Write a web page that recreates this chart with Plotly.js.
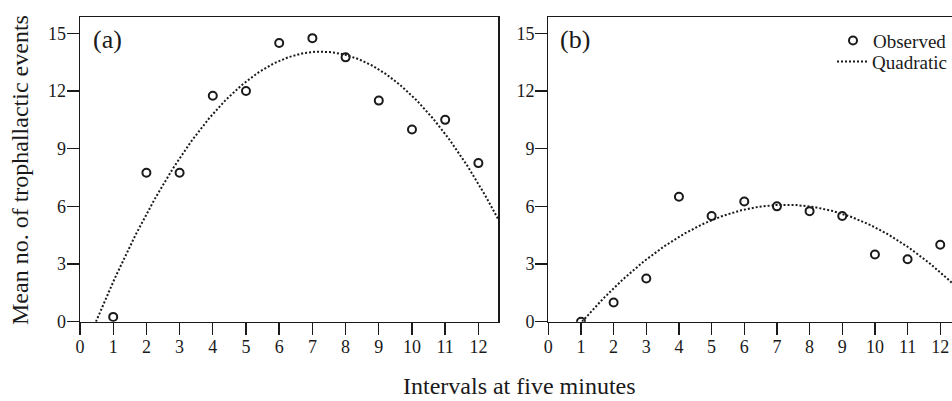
<!DOCTYPE html>
<html>
<head>
<meta charset="utf-8">
<script src="https://cdn.plot.ly/plotly-3.0.1.min.js"></script>
<style>html,body{margin:0;padding:0;background:#fff;}#chart{width:952px;height:401px;}</style>
</head>
<body>
<div id="chart"></div>
<script>
// ---- data ----
const intervals = [1, 2, 3, 4, 5, 6, 7, 8, 9, 10, 11, 12];
const observedA = [0.25, 7.75, 7.75, 11.75, 12, 14.5, 14.75, 13.75, 11.5, 10, 10.5, 8.25];
const observedB = [0, 1, 2.25, 6.5, 5.5, 6.25, 6, 5.75, 5.5, 3.5, 3.25, 4];
const yTicks = [0, 3, 6, 9, 12, 15];
const xTicks = [0, 1, 2, 3, 4, 5, 6, 7, 8, 9, 10, 11, 12];
const panelLabels = ["(a)", "(b)"];
const legendNames = ["Observed", "Quadratic"];
const xTitle = "Intervals at five minutes";
const yTitle = "Mean no. of trophallactic events";

// least-squares quadratic fit of the observed values
function quadFit(xs, ys) {
  let n = xs.length, s = [0,0,0,0,0], t = [0,0,0];
  for (let i = 0; i < n; i++) {
    let p = 1;
    for (let k = 0; k < 5; k++) { s[k] += p; if (k < 3) t[k] += p * ys[i]; p *= xs[i]; }
  }
  const M = [[s[0], s[1], s[2], t[0]], [s[1], s[2], s[3], t[1]], [s[2], s[3], s[4], t[2]]];
  for (let c = 0; c < 3; c++) {
    for (let r = c + 1; r < 3; r++) {
      const f = M[r][c] / M[c][c];
      for (let k = c; k < 4; k++) M[r][k] -= f * M[c][k];
    }
  }
  const b = [0, 0, 0];
  for (let r = 2; r >= 0; r--) {
    let v = M[r][3];
    for (let k = r + 1; k < 3; k++) v -= M[r][k] * b[k];
    b[r] = v / M[r][r];
  }
  return b; // c0, c1, c2
}
function curve(b, xEnd) {
  const [c0, c1, c2] = b;
  const disc = c1 * c1 - 4 * c2 * c0;
  const r1 = (-c1 + Math.sqrt(disc)) / (2 * c2);
  const r2 = (-c1 - Math.sqrt(disc)) / (2 * c2);
  const x0 = Math.min(r1, r2);
  const xs = [], ys = [];
  const N = 200;
  for (let i = 0; i <= N; i++) {
    const x = x0 + (xEnd - x0) * i / N;
    xs.push(x); ys.push(c0 + c1 * x + c2 * x * x);
  }
  return {xs, ys};
}

const xEndA = 12.6, xEndB = 12.36, yTop = 15.85;
const fitA = curve(quadFit(intervals, observedA), xEndA);
const fitB = curve(quadFit(intervals, observedB), xEndB);

const serif = "Liberation Serif, Times New Roman, serif";
const ink = "#1a1a1a";
const markerStyle = {symbol: "circle-open", size: 8, color: ink, line: {width: 2, color: ink}};
const lineStyle = {color: ink, width: 2, dash: "2px,2px"};

const traces = [
  {x: fitA.xs, y: fitA.ys, xaxis: "x", yaxis: "y", mode: "lines", line: lineStyle, showlegend: false, hoverinfo: "skip"},
  {x: intervals, y: observedA, xaxis: "x", yaxis: "y", mode: "markers", marker: markerStyle, showlegend: false},
  {x: fitB.xs, y: fitB.ys, xaxis: "x2", yaxis: "y2", mode: "lines", line: lineStyle, name: legendNames[1], showlegend: true, legend: "legend2", hoverinfo: "skip"},
  {x: intervals, y: observedB, xaxis: "x2", yaxis: "y2", mode: "markers", marker: markerStyle, name: legendNames[0], showlegend: true, legend: "legend"}
];

const W = 952, H = 401;
const yDom = [(H - 321.7) / H, (H - 17) / H];
function xAxis(dom, end) {
  return {domain: dom, range: [0, end], tickvals: xTicks, ticktext: xTicks.map(String),
    showline: true, linecolor: ink, linewidth: 1.3, mirror: true,
    ticks: "outside", ticklen: 12, tickwidth: 1.4, tickcolor: ink, ticklabelstandoff: -4,
    showgrid: false, zeroline: false, fixedrange: true,
    tickfont: {family: serif, size: 18, color: ink}};
}
function yAxis(anchor, mirror) {
  return {domain: yDom, range: [0, yTop], anchor: anchor, tickvals: yTicks, ticktext: yTicks.map(String),
    showline: true, linecolor: ink, linewidth: 1.3, mirror: mirror,
    ticks: "outside", ticklen: 12, tickwidth: 1.4, tickcolor: ink, ticklabelstandoff: -3,
    showgrid: false, zeroline: false, fixedrange: true,
    tickfont: {family: serif, size: 18, color: ink}};
}
const xa = xAxis([80 / W, 498.3 / W], xEndA); xa.anchor = "y";
const xb = xAxis([548.3 / W, 1], xEndB); xb.anchor = "y2";

const legendBase = {x: 1, xanchor: "right", yanchor: "middle", bgcolor: "rgba(0,0,0,0)",
  font: {family: serif, size: 19, color: ink}, itemwidth: 30};

const layout = {
  width: W, height: H,
  margin: {l: 0, r: 0, t: 0, b: 0},
  paper_bgcolor: "#fff", plot_bgcolor: "#fff",
  font: {family: serif, color: ink},
  xaxis: xa, xaxis2: xb,
  yaxis: yAxis("x", true), yaxis2: yAxis("x2", false),
  showlegend: true,
  legend: Object.assign({}, legendBase, {y: (H - 40.7) / H}),
  legend2: Object.assign({}, legendBase, {y: (H - 61.7) / H}),
  annotations: [
    {text: panelLabels[0], xref: "paper", yref: "paper", x: 107 / W, y: (H - 39) / H, xanchor: "center", yanchor: "middle", showarrow: false, font: {family: serif, size: 26, color: ink}},
    {text: panelLabels[1], xref: "paper", yref: "paper", x: 575 / W, y: (H - 39) / H, xanchor: "center", yanchor: "middle", showarrow: false, font: {family: serif, size: 26, color: ink}},
    {text: xTitle, xref: "paper", yref: "paper", x: 519.5 / W, y: (H - 386) / H, xanchor: "center", yanchor: "middle", showarrow: false, font: {family: serif, size: 24, color: ink}},
    {text: yTitle, xref: "paper", yref: "paper", x: 20 / W, y: (H - 170) / H, xanchor: "center", yanchor: "middle", textangle: -90, showarrow: false, font: {family: serif, size: 24, color: ink}}
  ]
};

Plotly.newPlot("chart", traces, layout, {staticPlot: true, displayModeBar: false});
</script>
</body>
</html>
